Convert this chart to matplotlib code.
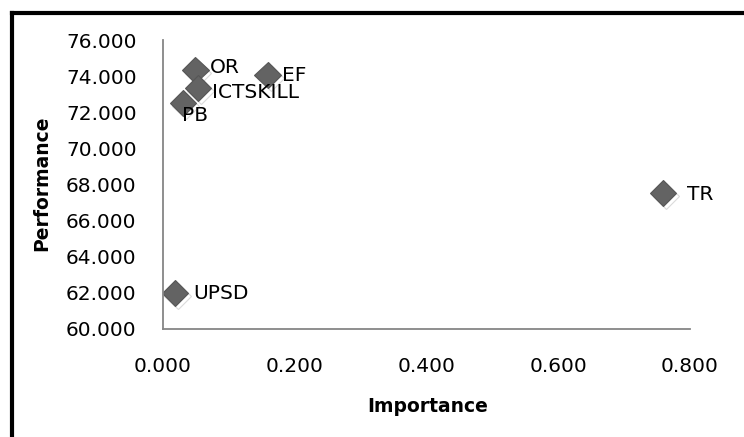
import matplotlib.pyplot as plt
import matplotlib.patheffects as pe
from matplotlib.lines import Line2D

names = ['OR', 'EF', 'ICTSKILL', 'PB', 'TR', 'UPSD']
importance = [0.049, 0.159, 0.053, 0.030, 0.759, 0.018]
performance = [74.34, 74.06, 73.34, 72.51, 67.53, 61.99]
# label offsets in pixels (dx, dy)
offsets = [(15, 2), (14, 0), (14, -4), (-1, -12), (24, -2), (18, 0)]

plt.rcParams['font.family'] = 'DejaVu Sans'

fig = plt.figure(figsize=(7.44, 4.37), dpi=100)
ax = fig.add_axes([163 / 744, 1 - 329 / 437, (690 - 163) / 744, (329 - 40) / 437])

ax.plot(importance, performance, linestyle='none', marker='D', markersize=13.5,
        markerfacecolor='#636363', markeredgecolor='#565656', markeredgewidth=0.8,
        path_effects=[pe.SimpleLineShadow(offset=(2, -2), shadow_color='#999999', alpha=0.35),
                      pe.Normal()])

for n, x, y, (dx, dy) in zip(names, importance, performance, offsets):
    ax.annotate(n, (x, y), xytext=(dx, dy), textcoords='offset pixels',
                ha='left', va='center', fontsize=14.5, color='black')

ax.set_xlim(0, 0.8)
ax.set_ylim(60, 76)
ax.set_xticks([0, 0.2, 0.4, 0.6, 0.8])
ax.set_yticks(range(60, 77, 2))
ax.set_xticklabels([f'{v:.3f}' for v in [0, 0.2, 0.4, 0.6, 0.8]])
ax.set_yticklabels([f'{v:.3f}' for v in range(60, 77, 2)])
ax.tick_params(length=0, labelsize=14.5)
ax.tick_params(axis='y', pad=19)
ax.tick_params(axis='x', pad=20)
for s in ['top', 'right']:
    ax.spines[s].set_visible(False)
for s in ['left', 'bottom']:
    ax.spines[s].set_color('#868686')
    ax.spines[s].set_linewidth(1.3)

fig.text(42 / 744, 1 - 183 / 437, 'Performance', rotation=90, ha='center', va='center',
         fontsize=13.5, fontweight='bold')
fig.text(428 / 744, 1 - 406 / 437, 'Importance', ha='center', va='center',
         fontsize=13.5, fontweight='bold')

# frame border (cropped on right and bottom)
fig.add_artist(Line2D([12 / 744, 12 / 744], [0, 1 - 13 / 437], color='black', lw=3,
                      transform=fig.transFigure, solid_capstyle='projecting'))
fig.add_artist(Line2D([12 / 744, 1], [1 - 13 / 437, 1 - 13 / 437], color='black', lw=3,
                      transform=fig.transFigure, solid_capstyle='projecting'))

fig.savefig('out.png', dpi=100)
